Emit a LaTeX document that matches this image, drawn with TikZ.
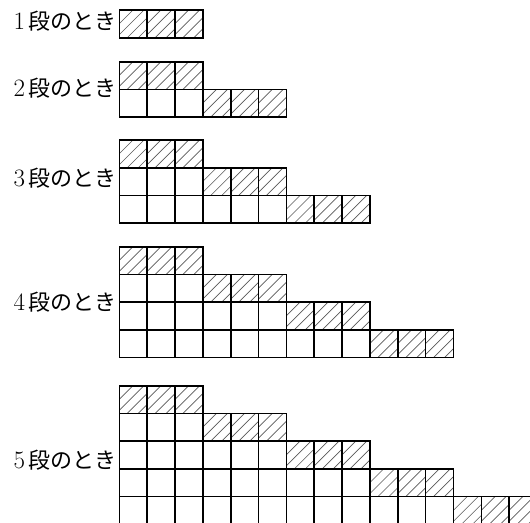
\documentclass[tikz,border=0pt]{standalone}
\usepackage{fontspec}
\newfontfamily\jp{Noto Sans CJK JP}
\newcommand\dg[1]{{\rmfamily\fontsize{25}{25}\selectfont #1}}
\begin{document}
\begin{tikzpicture}[x=1pt,y=-1pt,
  cellbox/.style={draw=black,line width=1.6pt},
  hatchline/.style={draw=black!65,line width=0.65pt},
  lab/.style={anchor=east,inner sep=0pt,font=\fontsize{22}{22}\selectfont}]
\fill[white] (0,0) rectangle (530,522);
\clip (0,0) rectangle (530,522);
\def\cw{27.85}
\def\rh{27.7}
\def\xo{119.3}
\foreach \n/\top in {1/10, 2/61.7, 3/140, 4/246.7, 5/385.7} {
  \foreach \i in {1,...,\n} {
    \pgfmathtruncatemacro\ncols{3*\i}
    \pgfmathtruncatemacro\hs{3*\i-3}
    \foreach \j in {1,...,\ncols} {
      \pgfmathsetmacro\xa{\xo+(\j-1)*\cw}
      \pgfmathsetmacro\ya{\top+(\i-1)*\rh}
      \ifnum\j>\hs
        \begin{scope}
          \clip (\xa,\ya) rectangle ++(\cw,\rh);
          \foreach \s in {-14,-3,8,19} \draw[hatchline] ({\xa+(\s)},{\ya+\rh}) -- ++(\rh,-\rh);
        \end{scope}
      \fi
      \draw[cellbox] (\xa,\ya) rectangle ++(\cw,\rh);
    }
  }
}
\node[lab] (l1) at (117,21) {\dg{1}\,{\jp 段のとき}};
\node[lab] (l2) at (117,88) {\dg{2}\,{\jp 段のとき}};
\node[lab] (l3) at (117,178) {\dg{3}\,{\jp 段のとき}};
\node[lab] (l4) at (117,302) {\dg{4}\,{\jp 段のとき}};
\node[lab] (l5) at (117,460) {\dg{5}\,{\jp 段のとき}};
\end{tikzpicture}
\end{document}
